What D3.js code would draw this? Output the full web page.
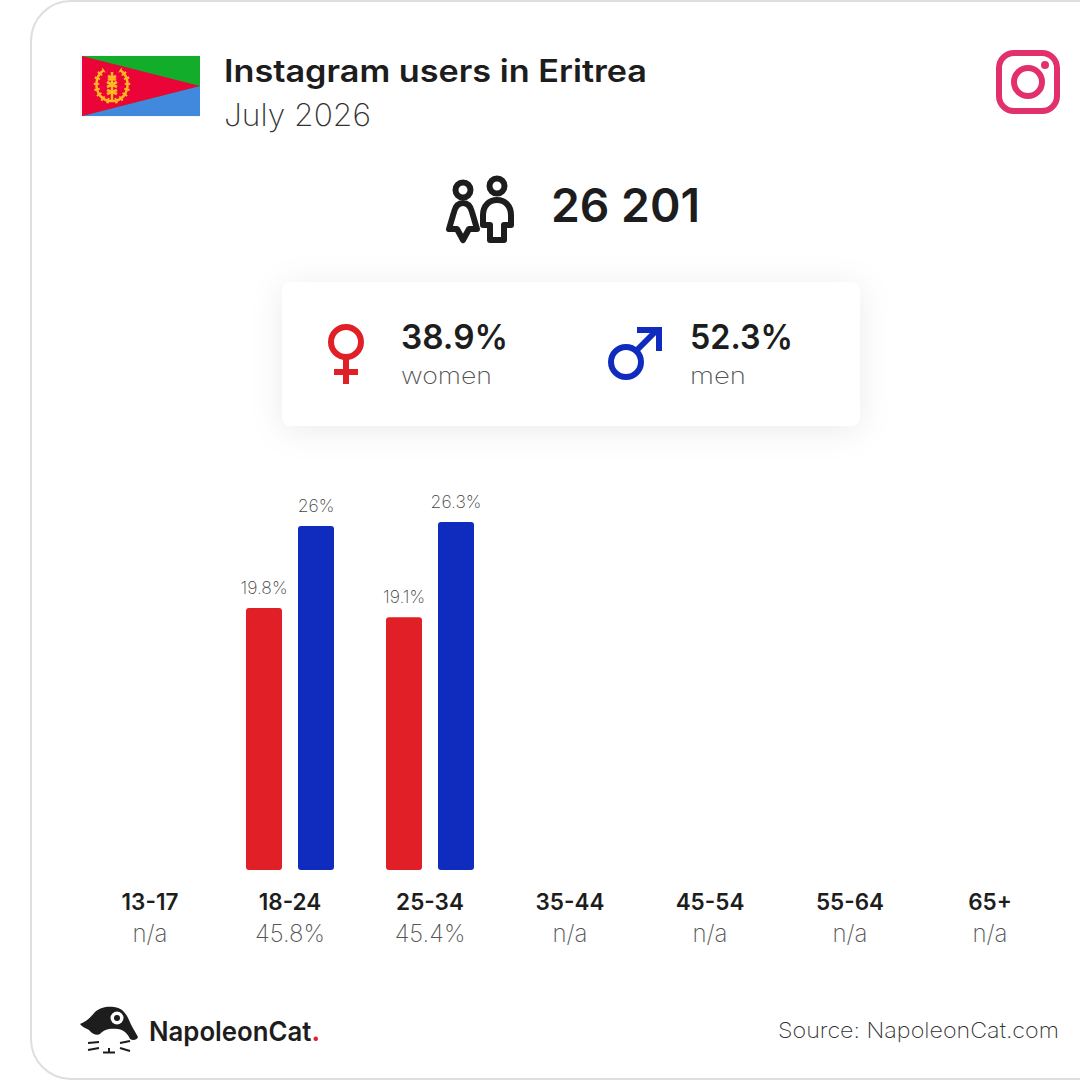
<!DOCTYPE html>
<html>
<head>
<meta charset="utf-8">
<script src="https://cdn.jsdelivr.net/npm/d3@7"></script>
<style>
    html, body { margin: 0; padding: 0; background: #fff; }
    svg { display: block; font-family: Inter, "Open Sans", sans-serif; }
</style>
</head>
<body>
<svg id="chart" width="1080" height="1080"></svg>
<script>
const ageGroups  = ['13-17', '18-24', '25-34', '35-44', '45-54', '55-64', '65+'];
const womenShare = [null, 19.8, 19.1, null, null, null, null];
const menShare   = [null, 26, 26.3, null, null, null, null];
const ageTotals  = ['n/a', '45.8%', '45.4%', 'n/a', 'n/a', 'n/a', 'n/a'];
const genders    = ['women', 'men'];
const genderPct  = ['38.9%', '52.3%'];

const RED = '#e01f26', BLUE = '#0f2cbf', INK = '#1d1d1d';

const svg = d3.select('#chart');

const defs = svg.append('defs');
const blur = defs.append('filter').attr('id', 'soft')
    .attr('x', '-20%').attr('y', '-30%').attr('width', '140%').attr('height', '160%');
blur.append('feDropShadow').attr('dx', 0).attr('dy', 4).attr('stdDeviation', 16)
    .attr('flood-color', '#000').attr('flood-opacity', 0.08);

// outer card, runs off the right edge
svg.append('rect')
    .attr('x', 31).attr('y', 1).attr('width', 1100).attr('height', 1078).attr('rx', 40)
    .attr('fill', '#fff').attr('stroke', '#dedede').attr('stroke-width', 2);

// width is stretched to the reference, the font here is narrower than the original
function label (x, y, str, size, weight, fill, anchor, width) {
    const t = svg.append('text')
        .attr('x', x).attr('y', y)
        .attr('font-size', size).attr('font-weight', weight)
        .attr('fill', fill).attr('text-anchor', anchor || 'start')
        .text(str);
    if (width) t.attr('textLength', width).attr('lengthAdjust', 'spacingAndGlyphs');
    return t;
}

// flag
const flag = svg.append('g').attr('transform', 'translate(82,56)');
flag.append('rect').attr('x', -2).attr('y', -1).attr('width', 120).attr('height', 62).attr('fill', '#f4f4f4');
flag.append('rect').attr('width', 118).attr('height', 60).attr('fill', '#12ad2b');
flag.append('path').attr('d', 'M0,60L118,30V60Z').attr('fill', '#4189dd');
flag.append('path').attr('d', 'M0,0L118,30L0,60Z').attr('fill', '#ea0437');
const wreath = flag.append('g').attr('transform', 'translate(30,29)')
    .attr('fill', 'none').attr('stroke', '#ffb722');
wreath.append('path').attr('d', 'M-3,16C-13,14 -17,4 -15,-5C-14,-10 -11,-13 -8,-15').attr('stroke-width', 2.5);
wreath.append('path').attr('d', 'M3,16C13,14 17,4 15,-5C14,-10 11,-13 8,-15').attr('stroke-width', 2.5);
wreath.append('path').attr('d', 'M-3,16C-13,14 -17,4 -15,-5C-14,-10 -11,-13 -8,-15').attr('stroke-width', 5.5).attr('stroke-dasharray', '2 3.5');
wreath.append('path').attr('d', 'M3,16C13,14 17,4 15,-5C14,-10 11,-13 8,-15').attr('stroke-width', 5.5).attr('stroke-dasharray', '2 3.5');
wreath.append('path').attr('d', 'M0,15V-13').attr('stroke-width', 2.5);
wreath.append('path').attr('d', 'M-4,-9L4,-5M4,-9L-4,-5M-5,-3L5,2M5,-3L-5,2M-5,5L5,9M5,5L-5,9').attr('stroke-width', 2.8);
wreath.append('path').attr('d', 'M-5,16H5').attr('stroke-width', 2.5);

label(224, 82, 'Instagram users in Eritrea', 31, 600, INK, 'start', 423);
label(224, 126, 'July 2026', 31, 200, '#333', 'start', 147);

// instagram glyph
const ig = svg.append('g').attr('fill', 'none').attr('stroke', '#e1306c').attr('stroke-width', 6);
ig.append('rect').attr('x', 999).attr('y', 53).attr('width', 58).attr('height', 58).attr('rx', 15);
ig.append('circle').attr('cx', 1028).attr('cy', 82).attr('r', 14);
svg.append('circle').attr('cx', 1045).attr('cy', 65).attr('r', 4).attr('fill', '#e1306c');

// people glyph
const people = svg.append('g').attr('fill', 'none').attr('stroke', INK)
    .attr('stroke-width', 6).attr('stroke-linejoin', 'round');
people.append('circle').attr('cx', 463).attr('cy', 190).attr('r', 7.5);
people.append('circle').attr('cx', 497).attr('cy', 186).attr('r', 7.5);
people.append('path').attr('d', 'M463,203C457,203 455,208 454,212L449,229H457L463,240L469,229H477L472,212C471,208 469,203 463,203Z');
people.append('path').attr('d', 'M497,200C489,200 483,206 483,215V225H490V240H504V225H511V215C511,206 505,200 497,200Z');

label(551, 222, '26 201', 46, 600, INK, 'start', 149);

// gender panel
svg.append('rect')
    .attr('x', 282).attr('y', 282).attr('width', 578).attr('height', 144).attr('rx', 9)
    .attr('fill', '#fff').attr('filter', 'url(#soft)');

const venus = svg.append('g').attr('fill', 'none').attr('stroke', RED).attr('stroke-width', 6);
venus.append('circle').attr('cx', 346).attr('cy', 342).attr('r', 15);
venus.append('path').attr('d', 'M346,357V384M334,372H358');

const mars = svg.append('g').attr('fill', 'none').attr('stroke', BLUE).attr('stroke-width', 6);
mars.append('circle').attr('cx', 626).attr('cy', 362).attr('r', 15);
mars.append('path').attr('d', 'M636,351L658,329M637,330H659V351');

const genderX = [401, 690];
const pctWidth = [107, 103], nameWidth = [91, 56];
genders.forEach((g, i) => {
    label(genderX[i], 349, genderPct[i], 34, 600, INK, 'start', pctWidth[i]);
    label(genderX[i], 384, g, 23, 200, '#555', 'start', nameWidth[i]);
});

// bars
const x = d3.scaleBand().domain(ageGroups).range([80, 1060]);
const y = d3.scaleLinear().domain([0, 26.3]).range([870, 522]);

function barSeries (values, offset, color) {
    const rows = ageGroups.map((age, i) => ({ age, v: values[i] })).filter(d => d.v !== null);
    const cx = d => x(d.age) + x.bandwidth() / 2 + offset;
    svg.append('g').selectAll('path').data(rows).enter().append('path')
        .attr('fill', color)
        .attr('d', d => {
            const l = cx(d) - 18, t = y(d.v), r = 3;
            return `M${l},${y(0) - r}V${t + r}Q${l},${t} ${l + r},${t}H${l + 36 - r}Q${l + 36},${t} ${l + 36},${t + r}V${y(0) - r}Q${l + 36},${y(0)} ${l + 36 - r},${y(0)}H${l + r}Q${l},${y(0)} ${l},${y(0) - r}Z`;
        });
    svg.append('g').selectAll('text').data(rows).enter().append('text')
        .attr('x', cx).attr('y', d => y(d.v) - 14)
        .attr('text-anchor', 'middle').attr('font-size', 17.5).attr('font-weight', 200)
        .attr('fill', '#444')
        .text(d => d.v + '%');
}
barSeries(womenShare, -26, RED);
barSeries(menShare, 26, BLUE);

// age labels
const axis = svg.append('g').attr('transform', 'translate(0,910)')
    .call(d3.axisBottom(x).tickSize(0).tickPadding(0));
axis.select('.domain').remove();
axis.selectAll('text')
    .attr('y', 0).attr('dy', 0)
    .attr('font-family', 'Inter, sans-serif')
    .attr('font-size', 22.5).attr('font-weight', 600).attr('fill', INK);

svg.append('g').selectAll('text').data(ageTotals).enter().append('text')
    .attr('x', (d, i) => x(ageGroups[i]) + x.bandwidth() / 2)
    .attr('y', 942)
    .attr('text-anchor', 'middle').attr('font-size', 24).attr('font-weight', 200)
    .attr('fill', '#555')
    .text(d => d);

// footer logo
const cat = svg.append('g');
cat.append('path').attr('fill', INK)
    .attr('d', 'M80,1024C86,1022 91,1017 95,1012C100,1007 108,1006 114,1007C122,1008 126,1013 129,1020C131,1026 135,1031 138,1037C137,1040 133,1041 130,1039C128,1034 124,1030 118,1029C110,1028 104,1029 100,1034C97,1036 92,1034 89,1030C86,1028 82,1027 80,1024Z');
cat.append('circle').attr('cx', 117).attr('cy', 1018).attr('r', 6.5).attr('fill', '#fff');
cat.append('circle').attr('cx', 117).attr('cy', 1018).attr('r', 3).attr('fill', INK);
cat.append('path').attr('fill', 'none').attr('stroke', INK).attr('stroke-width', 2)
    .attr('d', 'M88,1043L99,1042M88,1050L99,1048M120,1043L130,1041M120,1048L130,1051M103,1052.5H115M109,1048V1052');

const brand = label(149, 1041, 'NapoleonCat', 27, 600, INK, 'start', 171);
brand.append('tspan').attr('fill', RED).attr('font-weight', 700).text('.');

label(1059, 1038, 'Source: NapoleonCat.com', 21.5, 200, '#333', 'end', 281);
</script>
</body>
</html>
